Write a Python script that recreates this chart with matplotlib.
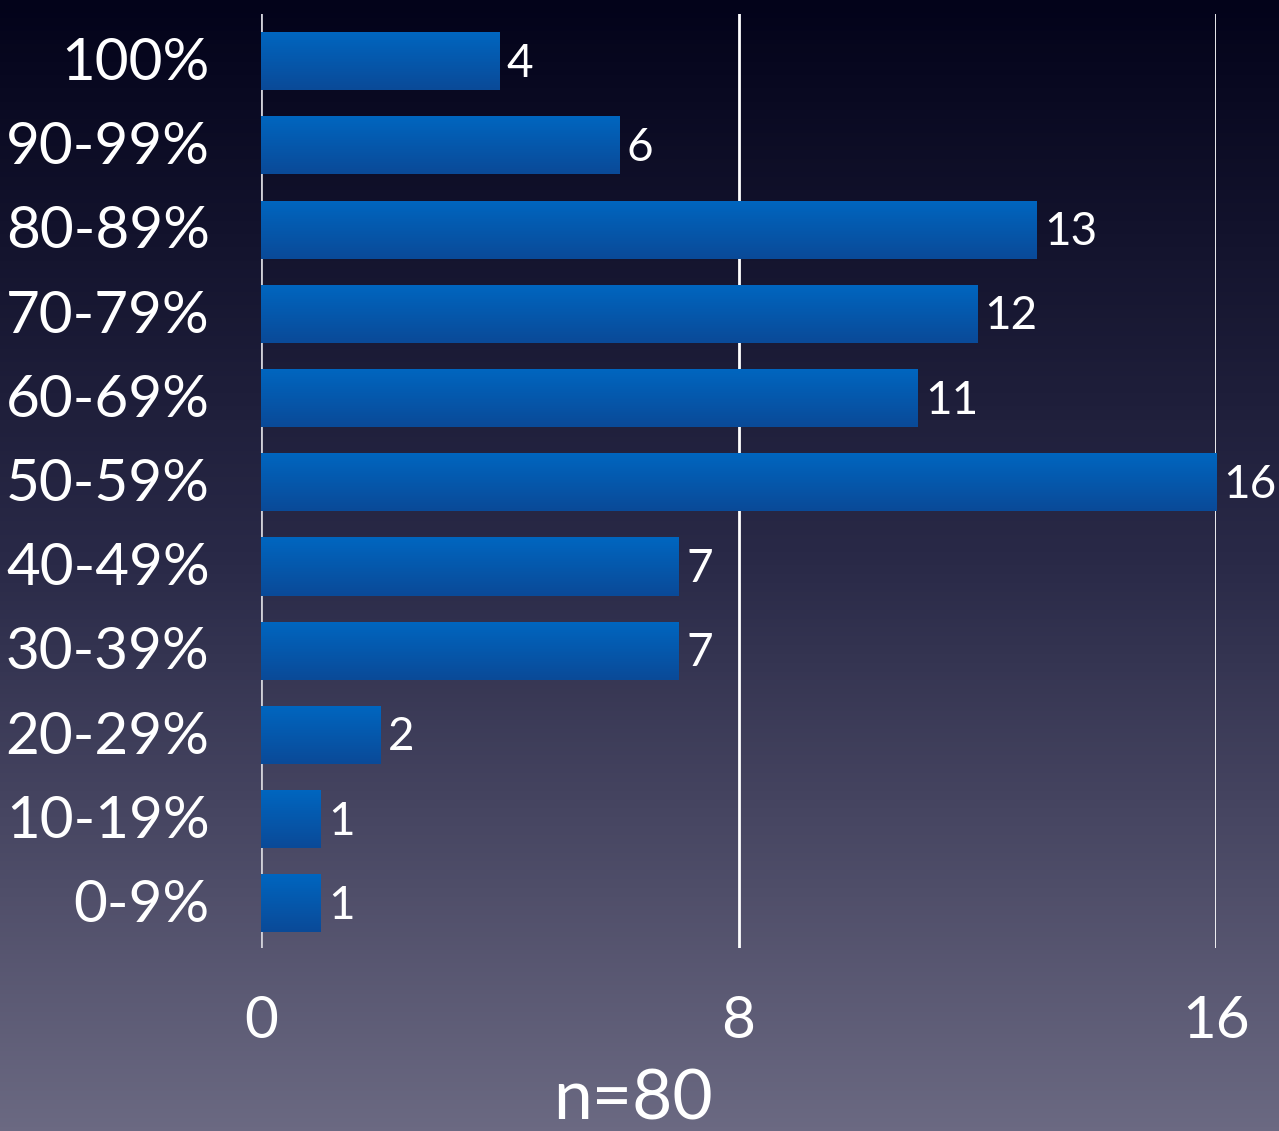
import numpy as np
import matplotlib.pyplot as plt
import matplotlib.transforms as mtransforms
from matplotlib.colors import LinearSegmentedColormap

categories = ['0-9%', '10-19%', '20-29%', '30-39%', '40-49%', '50-59%',
              '60-69%', '70-79%', '80-89%', '90-99%', '100%']
counts = [1, 1, 2, 7, 7, 16, 11, 12, 13, 6, 4]
xticks = [0, 8, 16]
n_total = 80

plt.rcParams['font.family'] = ['Lato', 'DejaVu Sans']

fig = plt.figure(figsize=(12.79, 11.31), dpi=100)

# background gradient
bg = fig.add_axes([0, 0, 1, 1], zorder=-10)
bg_cmap = LinearSegmentedColormap.from_list('bg', ['#03031a', '#2a2a48', '#6b6982'])
bg.imshow(np.linspace(0, 1, 256).reshape(-1, 1), aspect='auto', cmap=bg_cmap,
          extent=[0, 1, 0, 1])
bg.axis('off')

ax = fig.add_axes([0.2041, 0.1618, 0.7467, 0.8258])
ax.set_facecolor('none')
y = np.arange(len(categories))
bars = ax.barh(y, counts, height=0.69, color='#0560b4', zorder=3)

bar_cmap = LinearSegmentedColormap.from_list('bar', ['#0a4a98', '#0066c0'])
grad = np.linspace(0, 1, 64).reshape(-1, 1)
for b in bars:
    x0, y0 = b.get_x(), b.get_y()
    w, h = b.get_width(), b.get_height()
    im = ax.imshow(grad, aspect='auto', cmap=bar_cmap, origin='lower',
                   extent=[x0, x0 + w, y0, y0 + h], zorder=4)
    im.set_clip_path(b)

for yi, c in zip(y, counts):
    ax.text(c + 0.12, yi - 0.03, str(c), color='white', fontsize=33, va='center',
            ha='left', zorder=5)

ax.set_xlim(0, 16)
ax.set_ylim(-0.53, 10.56)
ax.set_xticks(xticks)
ax.set_xticklabels([str(t) for t in xticks])
ax.set_yticks(y)
ax.set_yticklabels(categories)
ax.tick_params(length=0, colors='white', labelsize=42)
ax.tick_params(axis='x', pad=34)
ax.tick_params(axis='y', pad=37)
# nudge y labels up a little
shift = mtransforms.ScaledTranslation(0, 2 / 72, fig.dpi_scale_trans)
for lab in ax.get_yticklabels():
    lab.set_transform(lab.get_transform() + shift)
for s in ax.spines.values():
    s.set_visible(False)
for t in xticks:
    ax.axvline(t, color='white' if t else '#d0d0d8', lw=2, zorder=2)

fig.text(0.495, 0.0, f'n={n_total}', color='white', fontsize=50,
         ha='center', va='bottom')

fig.savefig('out.png', dpi=100)
